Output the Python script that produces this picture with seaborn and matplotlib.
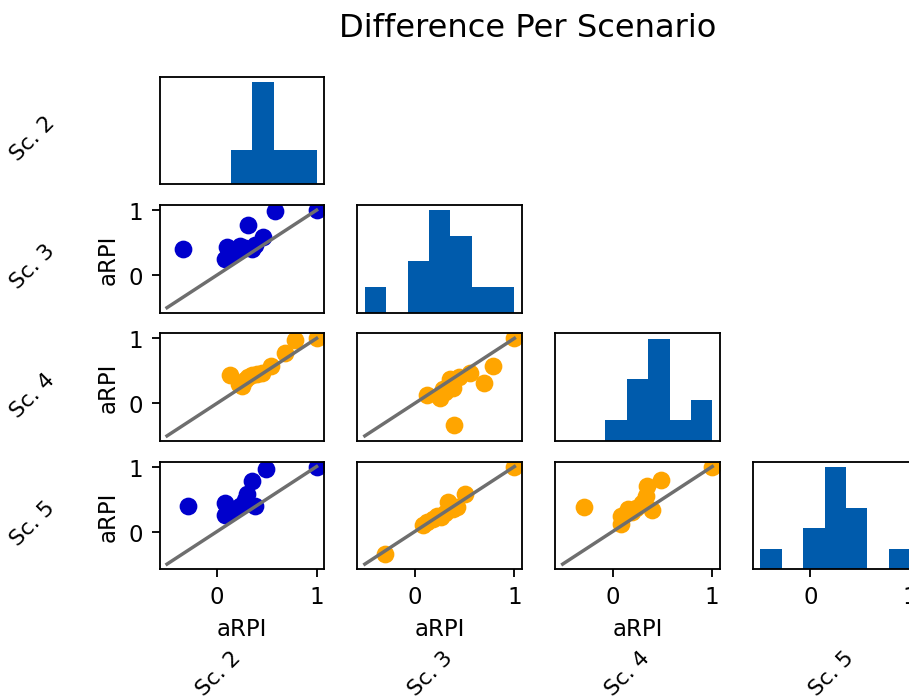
import numpy as np
import matplotlib
matplotlib.use("Agg")
import matplotlib.pyplot as plt
import seaborn as sns

# scenarios shown on the grid
scenarios = ["Sc. 2", "Sc. 3", "Sc. 4", "Sc. 5"]

# diagonal: aRPI values per scenario
hist_sc2 = [0.25, 0.40, 0.45, 0.50, 0.68, 0.90]
hist_sc3 = [-0.35, 0.00, 0.10, 0.18, 0.22, 0.28, 0.33, 0.40, 0.45, 0.50, 0.70, 0.95]
hist_sc4 = [0.05, 0.20, 0.25, 0.30, 0.38, 0.42, 0.45, 0.50, 0.55, 0.65, 0.85, 0.98]
hist_sc5 = [-0.35, 0.00, 0.10, 0.16, 0.20, 0.25, 0.30, 0.34, 0.40, 0.45, 0.52, 0.90]

# lower triangle: (x, y) aRPI pairs
x_32 = [-0.34, 0.08, 0.10, 0.15, 0.20, 0.23, 0.28, 0.31, 0.35, 0.38, 0.46, 0.58, 1.0]
y_32 = [0.40, 0.25, 0.43, 0.33, 0.38, 0.45, 0.42, 0.77, 0.40, 0.46, 0.59, 0.98, 1.0]
x_42 = [0.13, 0.22, 0.25, 0.28, 0.31, 0.35, 0.40, 0.45, 0.54, 0.68, 0.78, 1.0]
y_42 = [0.43, 0.30, 0.26, 0.36, 0.40, 0.43, 0.45, 0.47, 0.58, 0.78, 0.98, 1.0]
x_43 = [0.12, 0.25, 0.28, 0.30, 0.35, 0.38, 0.39, 0.44, 0.55, 0.70, 0.79, 1.0]
y_43 = [0.13, 0.08, 0.22, 0.17, 0.37, 0.24, -0.34, 0.40, 0.46, 0.31, 0.58, 1.0]
x_52 = [-0.29, 0.08, 0.08, 0.13, 0.17, 0.23, 0.28, 0.30, 0.35, 0.38, 0.49, 1.0]
y_52 = [0.40, 0.44, 0.25, 0.30, 0.35, 0.40, 0.48, 0.58, 0.78, 0.40, 0.97, 1.0]
x_53 = [-0.30, 0.08, 0.12, 0.18, 0.22, 0.26, 0.30, 0.33, 0.38, 0.42, 0.50, 1.0]
y_53 = [-0.34, 0.10, 0.14, 0.20, 0.24, 0.22, 0.28, 0.46, 0.34, 0.38, 0.58, 1.0]
x_54 = [-0.29, 0.08, 0.09, 0.16, 0.20, 0.24, 0.30, 0.34, 0.35, 0.40, 0.49, 1.0]
y_54 = [0.38, 0.24, 0.11, 0.34, 0.30, 0.37, 0.44, 0.55, 0.70, 0.33, 0.79, 1.0]

# identity reference line
ref_line = [-0.5, 1.0]

hists = [hist_sc2, hist_sc3, hist_sc4, hist_sc5]
pairs = {
    (1, 0): (x_32, y_32, "#0000CC"),
    (2, 0): (x_42, y_42, "orange"),
    (2, 1): (x_43, y_43, "orange"),
    (3, 0): (x_52, y_52, "#0000CC"),
    (3, 1): (x_53, y_53, "orange"),
    (3, 2): (x_54, y_54, "orange"),
}

plt.rcParams.update({"font.size": 10, "font.family": ["DejaVu Sans"],
                     "axes.linewidth": 0.8})

fig, axes = plt.subplots(4, 4, figsize=(909 / 165, 701 / 165), dpi=165)
fig.subplots_adjust(left=0.1755, right=1.0094, bottom=0.1869, top=0.8887,
                    wspace=0.2024, hspace=0.195)

bins = np.linspace(-0.5, 1.0, 8)
lims = (-0.575, 1.075)

for i in range(4):
    for j in range(4):
        ax = axes[i, j]
        if j > i:
            ax.remove()
            continue
        if i == j:
            sns.histplot(x=hists[i], bins=bins, ax=ax, color="#005BAC",
                         alpha=1, linewidth=0)
            ax.set_yticks([])
            ax.set_ylabel("")
        else:
            xs, ys, c = pairs[(i, j)]
            sns.scatterplot(x=xs, y=ys, ax=ax, color=c, s=60, linewidth=0, zorder=2)
            ax.plot(ref_line, ref_line, color="#6e6e6e", lw=1.5, zorder=3)
            ax.set_ylim(lims)
            if j == 0:
                ax.set_yticks([0, 1])
                ax.set_ylabel("aRPI")
            else:
                ax.set_yticks([])
        ax.set_xlim(lims)
        if i == 3:
            ax.set_xticks([0, 1])
            if j < 3:
                ax.set_xlabel("aRPI")
            else:
                ax.set_xlabel("")
        else:
            ax.set_xticks([])
            ax.set_xlabel("")
        for s in ax.spines.values():
            s.set_color("black")

fig.suptitle("Difference Per Scenario", x=0.58, y=1 - 37 / 701, fontsize=14,
             va="baseline")

# row / column scenario names
row_centers = [139, 267, 396, 524]
col_centers = [219, 431, 628, 832]
for name, yc in zip(scenarios, row_centers):
    fig.text(33 / 909, 1 - yc / 701, name, rotation=45, ha="center", va="center",
             fontsize=9.5)
for name, xc in zip(scenarios, col_centers):
    fig.text(xc / 909, 1 - 674 / 701, name, rotation=45, ha="center", va="center",
             fontsize=9.5)

fig.savefig("out.png", dpi=165)
